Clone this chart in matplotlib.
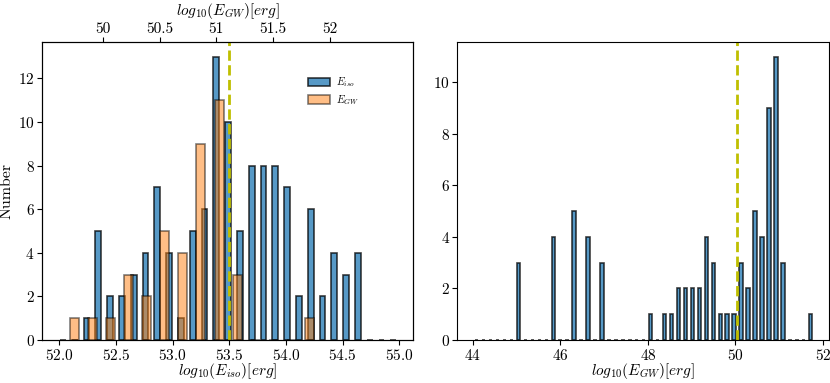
import numpy as np
import matplotlib
matplotlib.use("Agg")
from matplotlib import pyplot as plt

plt.rcParams["font.family"] = "serif"
plt.rcParams["font.serif"] = ["cmr10"]
plt.rcParams["mathtext.fontset"] = "cm"
plt.rcParams["axes.unicode_minus"] = False
plt.rcParams["axes.formatter.use_mathtext"] = True

# left panel: E_iso histogram (bin edges / counts), bottom axis
iso_edges = np.linspace(51.98, 55.0, 30)
iso_counts = [0, 0, 1, 5, 2, 2, 3, 4, 7, 4, 1, 5, 6, 13, 10,
              5, 8, 8, 8, 7, 2, 6, 2, 4, 3, 4, 0, 0, 0]

# left panel: E_GW histogram, top axis coordinates
gw_top_edges = 49.665 + 0.16 * np.arange(15)
gw_top_counts = [1, 1, 1, 3, 2, 5, 4, 9, 11, 3, 0, 0, 0, 1]
top_ticks = [50, 50.5, 51, 51.5, 52]
top_ticklabels = ["50", "50.5", "51", "51.5", "52"]

# right panel: E_GW histogram
gw_edges = 44.01 + 0.159 * np.arange(50)
gw_counts = [0, 0, 0, 0, 0, 0, 3, 0, 0, 0, 0, 4, 0, 0, 5, 0, 4, 0, 3, 0,
             0, 0, 0, 0, 0, 1, 0, 1, 1, 2, 2, 2, 2, 4, 3, 1, 1, 1, 3, 2,
             5, 4, 9, 11, 3, 0, 0, 0, 1]

iso_line = 53.5
gw_line = 50.03

fig = plt.figure(figsize=(8.3, 3.83), dpi=100)
ax1 = fig.add_axes([0.051, 0.1123, 0.447, 0.777])
ax3 = fig.add_axes([0.5512, 0.1123, 0.4476, 0.777])

centers = (iso_edges[:-1] + iso_edges[1:]) / 2
h1 = ax1.hist(centers, bins=iso_edges, weights=iso_counts, rwidth=0.5,
              color="tab:blue", alpha=0.75, edgecolor="black", linewidth=1.2)
ax1.axvline(iso_line, color="y", linestyle="--", linewidth=2)
ax1.set_xlim(51.85, 55.125)
ax1.set_ylim(0, 13.65)
ax1.set_xticks([52.0, 52.5, 53.0, 53.5, 54.0, 54.5, 55.0])
ax1.set_xlabel(r"$log_{10}(E_{iso})[erg]$", fontsize=11, labelpad=-1)
ax1.set_ylabel("Number", fontsize=11.5, labelpad=3)
ax1.tick_params(labelsize=11, pad=2)

ax2 = ax1.twiny()
gc = (gw_top_edges[:-1] + gw_top_edges[1:]) / 2
h2 = ax2.hist(gc, bins=gw_top_edges, weights=gw_top_counts, rwidth=0.5,
              color="tab:orange", alpha=0.5, edgecolor="black", linewidth=1.2)
ax2.set_xlim(51.85 - 2.385, 55.125 - 2.385)
ax2.set_xticks(top_ticks)
ax2.set_xticklabels(top_ticklabels)
ax2.set_xlabel(r"$log_{10}(E_{GW})[erg]$", fontsize=11, labelpad=5)
ax2.tick_params(labelsize=11, pad=1)

ax2.legend([h1[2][0], h2[2][0]], [r"$E_{iso}$", r"$E_{GW}$"],
           loc="upper left", bbox_to_anchor=(0.69, 0.92), frameon=False,
           fontsize=7.5, handlelength=2.1, handleheight=0.9,
           handletextpad=0.6, labelspacing=0.35)

c3 = (gw_edges[:-1] + gw_edges[1:]) / 2
ax3.hist(c3, bins=gw_edges, weights=gw_counts, rwidth=0.5,
         color="tab:blue", alpha=0.75, edgecolor="black", linewidth=1.2)
ax3.axvline(gw_line, color="y", linestyle="--", linewidth=2)
ax3.set_xlim(43.65, 52.14)
ax3.set_ylim(0, 11.55)
ax3.set_xticks([44, 46, 48, 50, 52])
ax3.set_xlabel(r"$log_{10}(E_{GW})[erg]$", fontsize=11, labelpad=-1)
ax3.tick_params(labelsize=11, pad=2)

fig.savefig("out.png", dpi=100)
